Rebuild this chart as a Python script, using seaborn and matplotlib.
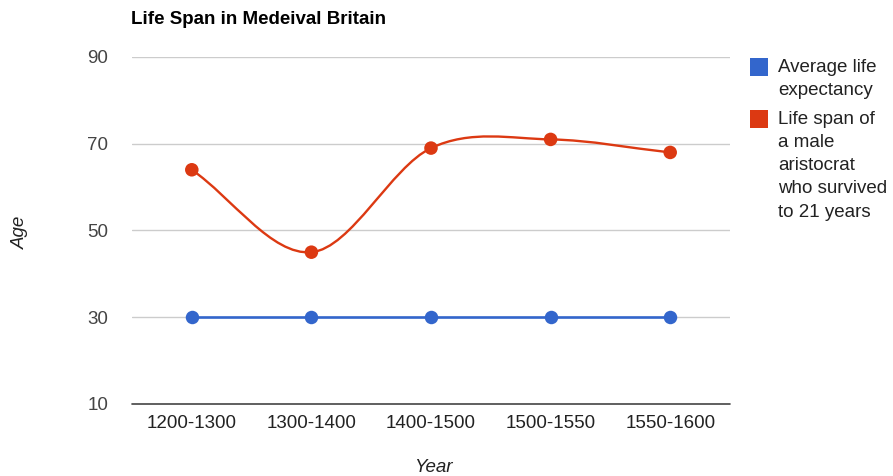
import numpy as np
import pandas as pd
import matplotlib
matplotlib.use('Agg')
import matplotlib.pyplot as plt
from matplotlib.path import Path
from matplotlib.patches import PathPatch, Rectangle
import seaborn as sns

# Chart data
periods = ['1200-1300', '1300-1400', '1400-1500', '1500-1550', '1550-1600']
avg_life = [30, 30, 30, 30, 30]
aristocrat_life = [64, 45, 69, 71, 68]
series_names = ['Average life\nexpectancy',
                'Life span of\na male\naristocrat\nwho survived\nto 21 years']

blue = '#3366cc'
red = '#dc3912'
FS = 13.5

sns.set_style('white')
plt.rcParams['font.family'] = ['Liberation Sans', 'DejaVu Sans']

df = pd.DataFrame({'period': periods, 'avg': avg_life, 'aristocrat': aristocrat_life})
df['x'] = range(len(df))

fig = plt.figure(figsize=(8.93, 4.76), dpi=100)
ax = fig.add_axes([132 / 893, 1 - 404 / 476, 598 / 893, 347 / 476])

# grid lines
for v in [30, 50, 70, 90]:
    ax.axhline(v, color='#cccccc', lw=1, zorder=0)
ax.axhline(10, color='#444444', lw=1.2, zorder=4, clip_on=False)

# smooth curve for aristocrat series (bezier through the data points)
xs = df['x'].to_numpy(dtype=float)
ys = df['aristocrat'].to_numpy(dtype=float)
n = len(xs)
tx = np.zeros(n)
ty = np.zeros(n)
for i in range(n):
    a = max(i - 1, 0)
    b = min(i + 1, n - 1)
    tx[i] = (xs[b] - xs[a]) / (b - a)
    ty[i] = (ys[b] - ys[a]) / (b - a)
verts = [(xs[0], ys[0])]
codes = [Path.MOVETO]
for i in range(n - 1):
    verts += [(xs[i] + tx[i] / 3, ys[i] + ty[i] / 3),
              (xs[i + 1] - tx[i + 1] / 3, ys[i + 1] - ty[i + 1] / 3),
              (xs[i + 1], ys[i + 1])]
    codes += [Path.CURVE4] * 3
ax.add_patch(PathPatch(Path(verts, codes), fill=False, edgecolor=red, lw=1.7, zorder=2))
sns.scatterplot(data=df, x='x', y='aristocrat', ax=ax, color=red, s=95,
                edgecolor='none', zorder=3, legend=False)

sns.lineplot(data=df, x='x', y='avg', ax=ax, color=blue, lw=1.9, marker='o',
             markersize=9.7, markeredgewidth=0, zorder=3)

ax.set_xlim(-0.5, 4.5)
ax.set_ylim(10, 90)
ax.set_yticks([10, 30, 50, 70, 90])
ax.set_xticks(range(len(periods)))
ax.set_xticklabels(periods)
ax.tick_params(axis='y', length=0, pad=17, labelsize=FS, labelcolor='#444444')
ax.tick_params(axis='x', length=0, pad=8, labelsize=FS, labelcolor='#222222')
for s in ax.spines.values():
    s.set_visible(False)
ax.set_xlabel('')
ax.set_ylabel('')

fig.text(131 / 893, 1 - 19 / 476, 'Life Span in Medeival Britain', fontsize=FS,
         fontweight='bold', color='black', va='center', ha='left')
fig.text(20 / 893, 1 - 232 / 476, 'Age', rotation=90, style='italic', fontsize=FS,
         color='#222222', va='center', ha='center')
fig.text(433 / 893, 1 - 467 / 476, 'Year', style='italic', fontsize=FS,
         color='#222222', va='center', ha='center')

# legend: square swatch next to the first line of each wrapped label
for name, col, top in zip(series_names, [blue, red], [58, 110]):
    fig.patches.append(Rectangle((750 / 893, 1 - (top + 18) / 476), 18 / 893, 18 / 476,
                                 transform=fig.transFigure, color=col, lw=0))
    fig.text(778 / 893, 1 - (top + 9) / 476, name.split('\n')[0], fontsize=FS,
             color='#222222', va='center', ha='left')
    for k, line in enumerate(name.split('\n')[1:], start=1):
        fig.text(778 / 893, 1 - (top + 9 + 23.3 * k) / 476, line, fontsize=FS,
                 color='#222222', va='center', ha='left')

fig.savefig('out.png', dpi=100)
